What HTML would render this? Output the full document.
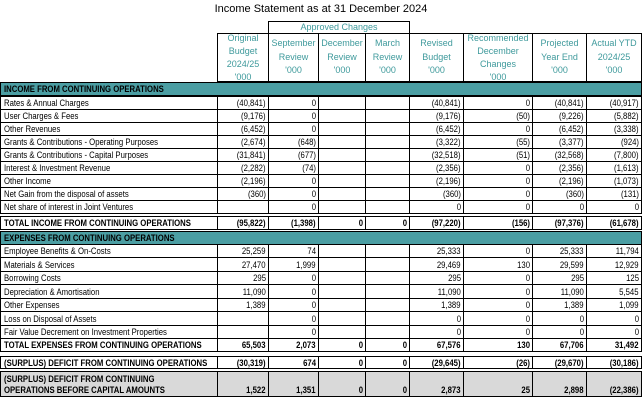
<!DOCTYPE html>
<html><head><meta charset="utf-8">
<style>
html,body{margin:0;padding:0;background:#fff;}
#root{position:relative;width:642px;height:405px;overflow:hidden;font-family:"Liberation Sans",sans-serif;color:#000;}
.c{position:absolute;box-sizing:border-box;overflow:visible;white-space:nowrap;}
.t{position:absolute;font-size:9px;line-height:12px;}
.tl{left:3px;transform:scaleX(0.86);transform-origin:left center;}
.tr{right:2px;transform:scaleX(0.86);transform-origin:right center;}
.b{font-weight:bold;}
.h{color:#3f9a9c;font-size:9px;text-align:center;line-height:12px;height:12px;position:absolute;left:0;right:0;}
#title{position:absolute;left:0;width:642px;top:3px;text-align:center;font-size:11px;}
</style></head>
<body>
<div id="root">
<div id="title">Income Statement as at 31 December 2024</div>
</div>
<script>
const colX=[0,217,268,318,365,409,463,532,586,641];
const headers=[
 ["Original","Budget","2024/25","'000"],
 ["September","Review","'000"],
 ["December","Review","'000"],
 ["March","Review","'000"],
 ["Revised","Budget","'000"],
 ["Recommended","December","Changes","'000"],
 ["Projected","Year End","'000"],
 ["Actual YTD","2024/25","'000"]
];
const incomeLabels=["Rates & Annual Charges","User Charges & Fees","Other Revenues","Grants & Contributions - Operating Purposes","Grants & Contributions - Capital Purposes","Interest & Investment Revenue","Other Income","Net Gain from the disposal of assets","Net share of interest in Joint Ventures","TOTAL INCOME FROM CONTINUING OPERATIONS"];
const incomeValues=[
 ["(40,841)","0","","","(40,841)","0","(40,841)","(40,917)"],
 ["(9,176)","0","","","(9,176)","(50)","(9,226)","(5,882)"],
 ["(6,452)","0","","","(6,452)","0","(6,452)","(3,338)"],
 ["(2,674)","(648)","","","(3,322)","(55)","(3,377)","(924)"],
 ["(31,841)","(677)","","","(32,518)","(51)","(32,568)","(7,800)"],
 ["(2,282)","(74)","","","(2,356)","0","(2,356)","(1,613)"],
 ["(2,196)","0","","","(2,196)","0","(2,196)","(1,073)"],
 ["(360)","0","","","(360)","0","(360)","(131)"],
 ["","0","","","0","0","0","0"],
 ["(95,822)","(1,398)","0","0","(97,220)","(156)","(97,376)","(61,678)"]
];
const expenseLabels=["Employee Benefits & On-Costs","Materials & Services","Borrowing Costs","Depreciation & Amortisation","Other Expenses","Loss on Disposal of Assets","Fair Value Decrement on Investment Properties","TOTAL EXPENSES FROM CONTINUING OPERATIONS"];
const expenseValues=[
 ["25,259","74","","","25,333","0","25,333","11,794"],
 ["27,470","1,999","","","29,469","130","29,599","12,929"],
 ["295","0","","","295","0","295","125"],
 ["11,090","0","","","11,090","0","11,090","5,545"],
 ["1,389","0","","","1,389","0","1,389","1,099"],
 ["","0","","","0","0","0","0"],
 ["","0","","","0","0","0","0"],
 ["65,503","2,073","0","0","67,576","130","67,706","31,492"]
];
const surplusValues=["(30,319)","674","0","0","(29,645)","(26)","(29,670)","(30,186)"];
const capitalValues=["1,522","1,351","0","0","2,873","25","2,898","(22,386)"];

const root=document.getElementById('root');
function cell(x,y,w,h,bg){
 const d=document.createElement('div');
 d.className='c';
 d.style.left=x+'px';d.style.top=y+'px';d.style.width=(w+1)+'px';d.style.height=(h+1)+'px';
 d.style.border='1px solid #000';
 if(bg)d.style.background=bg;
 root.appendChild(d);return d;
}
function txt(parent,s,cls,top){
 const sp=document.createElement('span');
 sp.className='t '+cls;sp.textContent=s;
 sp.style.top=top+'px';
 parent.appendChild(sp);return sp;
}
const ap=cell(colX[2],21,colX[5]-colX[2],12);


const apt=document.createElement('div');apt.className='h';apt.style.top='-1px';apt.textContent='Approved Changes';ap.appendChild(apt);
headers.forEach((lines,i)=>{
 const d=cell(colX[i+1],33,colX[i+2]-colX[i+1],48);
 
 
 const n=lines.length;
 const firstCenter=n===4?4.5:10;
 const step=n===4?13.2:13.5;
 lines.forEach((l,j)=>{const e=document.createElement('div');e.className='h';e.style.top=(firstCenter+j*step-6-1)+'px';e.textContent=l;d.appendChild(e);});
});
function section(y,label){
 const d=cell(0,y,641,13,'#4b9ea3');
 
 
 txt(d,label,'tl b',0);
}
function row(y,h,label,vals,bold,bg,twoLine){
 const lc=cell(0,y,colX[1],h,bg);
 
 
 if(twoLine){txt(lc,label[0],'tl b',(h/2-12));txt(lc,label[1],'tl b',h-13);}
 else txt(lc,label,'tl'+(bold?' b':''),(h-13)/2);
 vals.forEach((v,i)=>{
  const c=cell(colX[i+1],y,colX[i+2]-colX[i+1],h,bg);
  
  
  if(v!=='')txt(c,v,'tr'+(bold?' b':''),twoLine?h-13:(h-13)/2);
 });
}
section(82,"INCOME FROM CONTINUING OPERATIONS");
incomeLabels.forEach((l,i)=>{
 const y=96+i*13+(i===9?3:0);
 row(y,13,l,incomeValues[i],i===9);
});
section(231,"EXPENSES FROM CONTINUING OPERATIONS");
expenseLabels.forEach((l,i)=>{
 const y=Math.round(244+i*13.43);
 const y2=Math.round(244+(i+1)*13.43);
 row(y,y2-y,l,expenseValues[i],i===7);
});
row(356,12,"(SURPLUS) DEFICIT FROM CONTINUING OPERATIONS",surplusValues,true);
row(371,25,["(SURPLUS) DEFICIT FROM CONTINUING","OPERATIONS BEFORE CAPITAL AMOUNTS"],capitalValues,true,'#d9d9d9',true);
</script>
</body></html>
